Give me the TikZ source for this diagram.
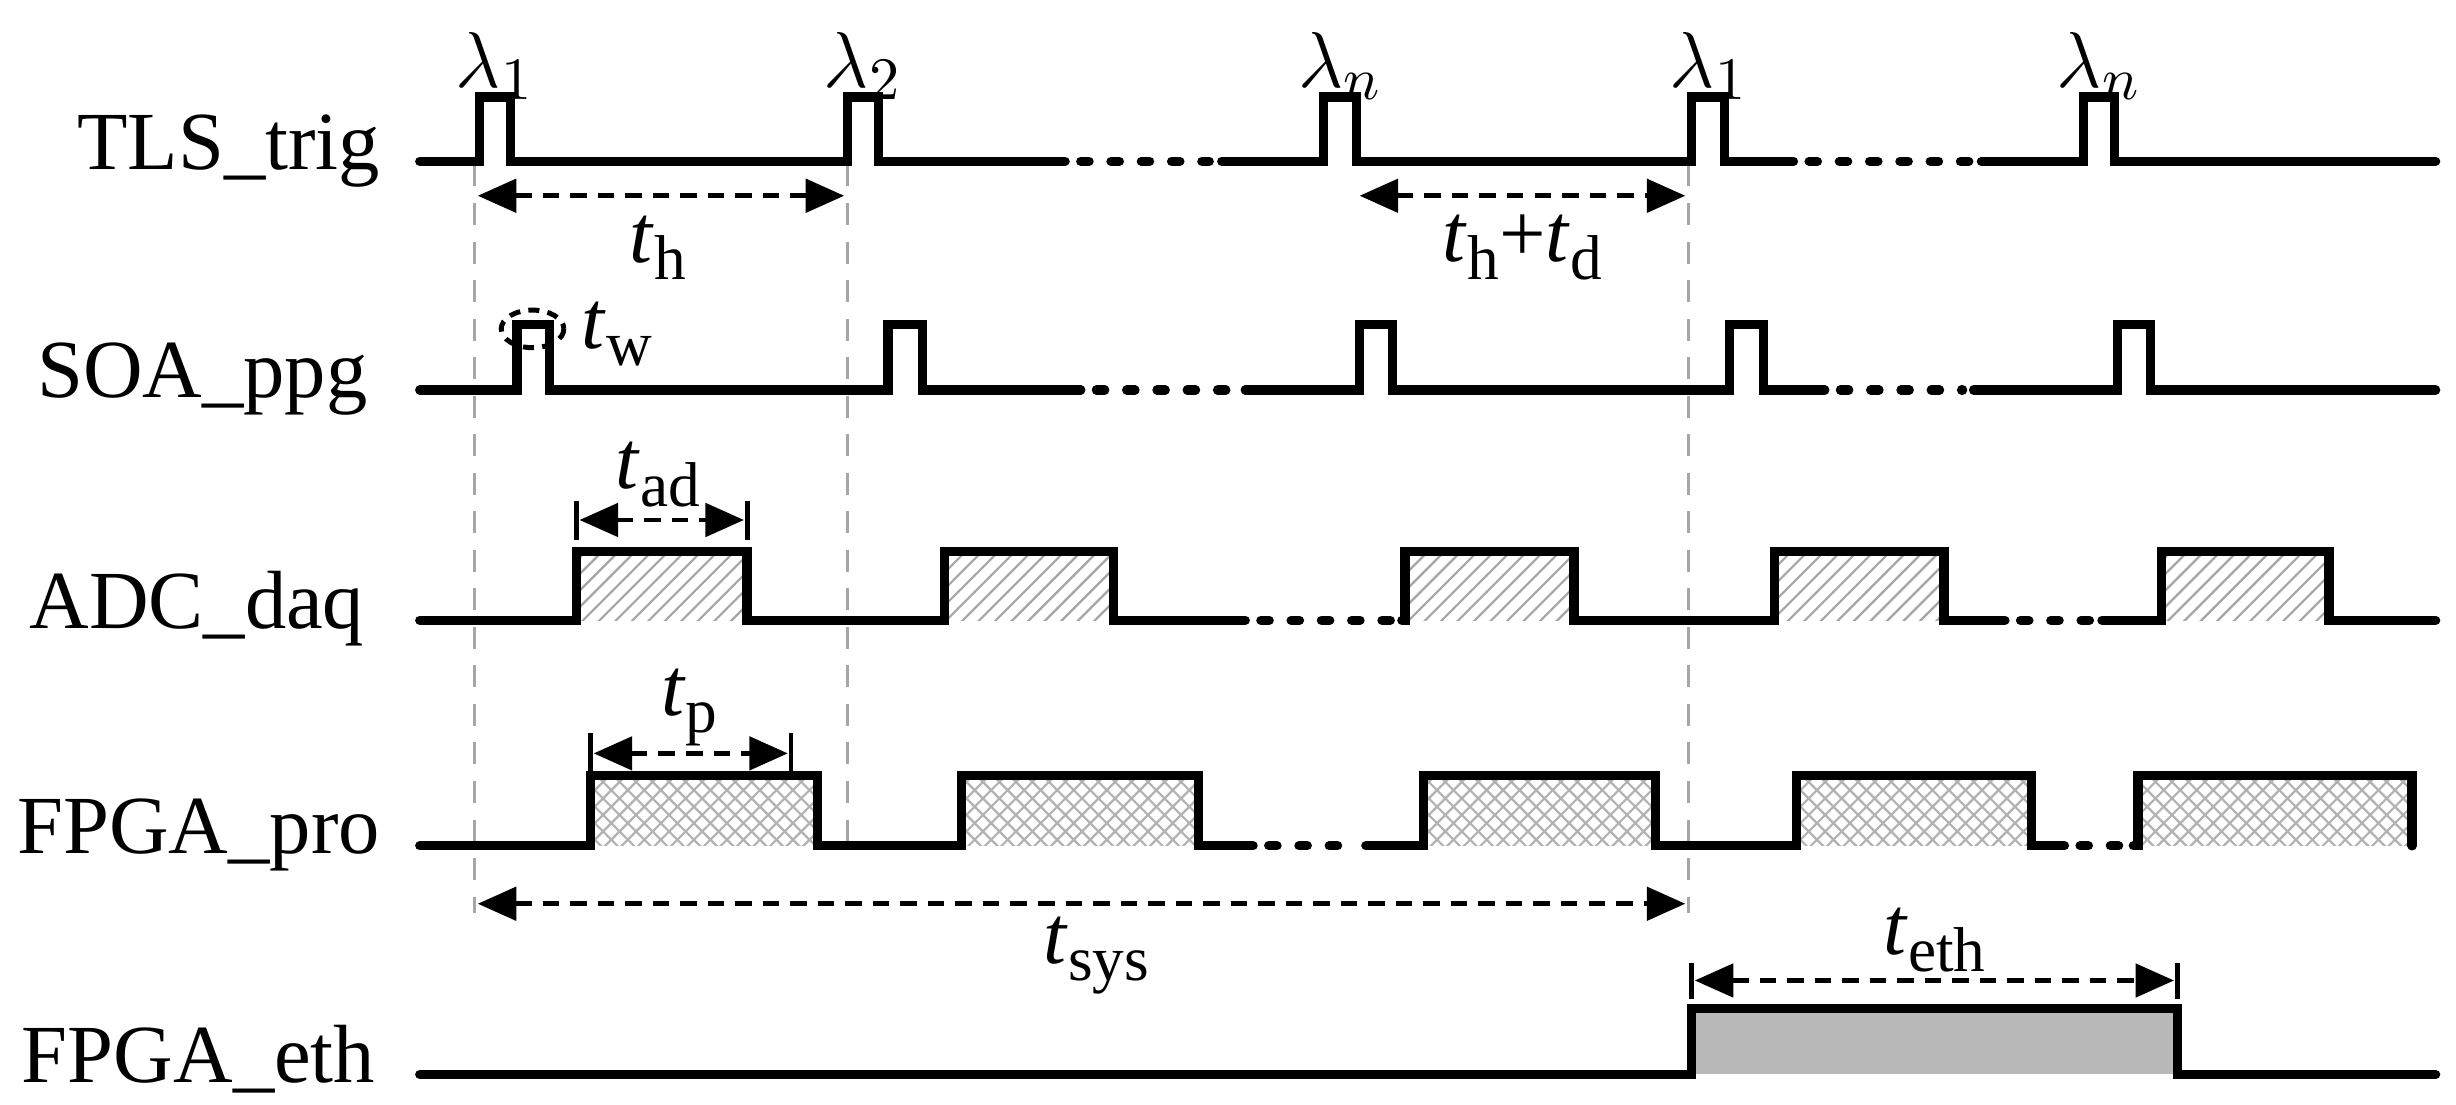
\documentclass[tikz,border=0pt]{standalone}
\usepackage{fontspec}
\setmainfont{Liberation Serif}
\usetikzlibrary{patterns,arrows.meta}
\newcommand{\tsub}[1]{\textit{t}\raisebox{-0.45ex}{\fontsize{11.5}{12}\selectfont #1}}
\begin{document}
\begin{tikzpicture}[x=0.1mm,y=-0.1mm,
  sig/.style={line width=1.7pt,line join=miter,line cap=round},
  gap/.style={line width=1.7pt,line cap=round,dash pattern=on 1.5pt off 4pt},
  guide/.style={gray!70,line width=0.6pt,dash pattern=on 4pt off 3pt},
  dim/.style={line width=0.9pt,dash pattern=on 3pt off 2pt,{Triangle[length=7pt,width=6pt]}-{Triangle[length=7pt,width=6pt]}},
  bar/.style={line width=0.9pt},
  lbl/.style={font=\fontsize{15}{18}\selectfont,anchor=base east},
  tx/.style={font=\fontsize{15}{18}\selectfont},
  fadc/.style={pattern=north east lines,pattern color=gray!70},
  fpro/.style={pattern=crosshatch,pattern color=gray!60},
  feth/.style={fill=gray!55}]
\useasboundingbox (0,0) rectangle (1568,705);

% labels
\node[lbl] (l1) at (255,108) {TLS\_trig};
\node[lbl] (l2) at (247,254) {SOA\_ppg};
\node[lbl] (l3) at (245,401) {ADC\_daq};
\node[lbl] (l4) at (255,545) {FPGA\_pro};
\node[lbl] (l5) at (252,691) {FPGA\_eth};

% fills
\foreach \a/\b in {368/477,603/711,897/1005,1133/1241,1380/1487}
  \fill[fadc] (\a,396) rectangle (\b,352);
\foreach \a/\b in {377/522,614/765,909/1057,1147/1297,1365/1540}
  \fill[fpro] (\a,540) rectangle (\b,495);
\fill[feth] (1080,686) rectangle (1390,644);

% guides
\draw[guide] (303,105) -- (303,583);
\draw[guide] (541,105) -- (541,545);
\draw[guide] (1078,105) -- (1078,583);

% TLS_trig
\draw[sig] (268,103) -- (306,103) |- (326,62) |- (541,103) |- (561,62) |- (680,103);
\draw[gap] (690,103) -- (772,103);
\draw[sig] (780,103) -- (845,103) |- (866,62) |- (1080,103) |- (1101,62) |- (1145,103);
\draw[gap] (1155,103) -- (1258,103);
\draw[sig] (1265,103) -- (1330,103) |- (1350,62) |- (1555,103);
\foreach \x/\s in {316/1,551/2,856/n,1091/1,1340/n}
  \node[tx] at (\x,42) {$\lambda_{\s}$};

% SOA_ppg
\draw[sig] (268,249) -- (330,249) |- (351,207) |- (567,249) |- (589,207) |- (690,249);
\draw[gap] (700,249) -- (788,249);
\draw[sig] (795,249) -- (868,249) |- (889,207) |- (1104,249) |- (1126,207) |- (1165,249);
\draw[gap] (1175,249) -- (1253,249);
\draw[sig] (1260,249) -- (1352,249) |- (1373,207) |- (1555,249);
\draw[line width=0.9pt,dash pattern=on 2pt off 1.5pt] (340,210) ellipse (20 and 12);
\node[tx,anchor=west] at (359,213) {\tsub{w}};

% ADC_daq
\draw[sig] (268,396) -- (368,396) |- (477,352) |- (603,396) |- (711,352) |- (795,396);
\draw[gap] (805,396) -- (888,396);
\draw[sig] (895,396) -- (897,396) |- (1005,352) |- (1133,396) |- (1241,352) |- (1280,396);
\draw[gap] (1290,396) -- (1335,396);
\draw[sig] (1342,396) -- (1380,396) |- (1487,352) |- (1555,396);

% FPGA_pro
\draw[sig] (268,540) -- (377,540) |- (522,495) |- (614,540) |- (765,495) |- (800,540);
\draw[gap] (810,540) -- (865,540);
\draw[sig] (872,540) -- (909,540) |- (1057,495) |- (1147,540) |- (1297,495) |- (1318,540);
\draw[gap] (1328,540) -- (1355,540);
\draw[sig] (1362,540) -- (1365,540) |- (1540,495) -- (1540,540);

% FPGA_eth
\draw[sig] (268,686) -- (1080,686) |- (1390,644) |- (1555,686);

% dimensions
\draw[dim] (305,125) -- (539,125);
\node[tx] at (420,158) {\tsub{h}};
\draw[dim] (868,125) -- (1076,125);
\node[tx] at (972,158) {\tsub{h}+\tsub{d}};
\draw[bar] (368,320) -- (368,345) (477,320) -- (477,345);
\draw[dim] (370,332) -- (475,332);
\node[tx] at (420,303) {\tsub{ad}};
\draw[bar] (377,468) -- (377,492) (505,468) -- (505,492);
\draw[dim] (379,481) -- (503,481);
\node[tx] at (440,452) {\tsub{p}};
\draw[dim] (305,577) -- (1076,577);
\node[tx] at (700,610) {\tsub{sys}};
\draw[bar] (1080,615) -- (1080,638) (1390,615) -- (1390,638);
\draw[dim] (1082,626) -- (1388,626);
\node[tx] at (1235,600) {\tsub{eth}};
\end{tikzpicture}
\end{document}
